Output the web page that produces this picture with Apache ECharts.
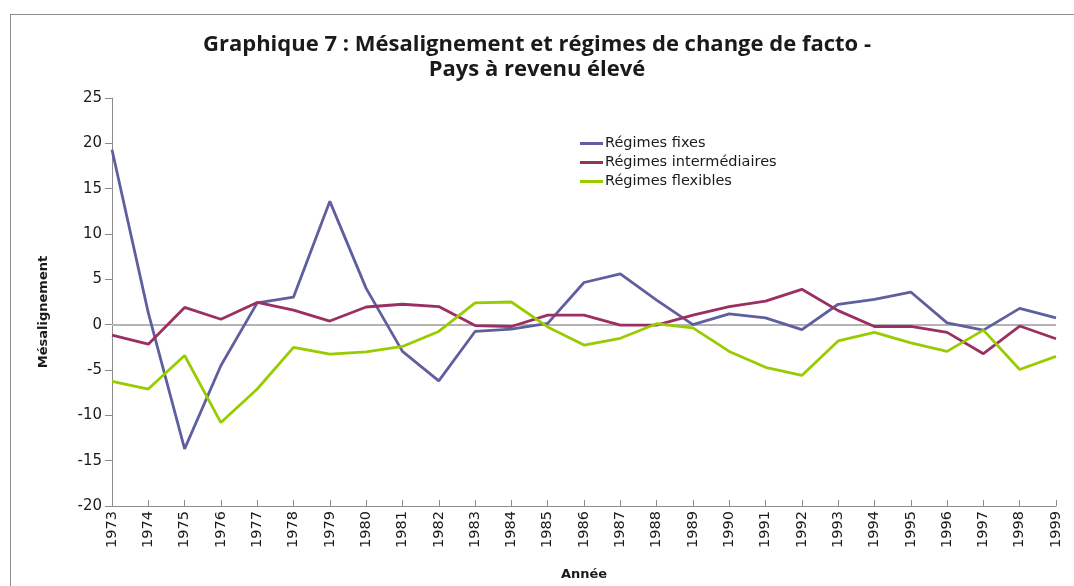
<!DOCTYPE html>
<html>
<head>
<meta charset="utf-8">
<script src="https://cdn.jsdelivr.net/npm/echarts@6/dist/echarts.min.js"></script>
<style>
html,body{margin:0;padding:0;background:#fff;}
#frame{position:absolute;left:10px;top:14px;width:1064px;height:572px;border-top:1px solid #8c8c8c;border-left:1px solid #8c8c8c;box-sizing:border-box;}
#chart{position:absolute;left:0;top:0;width:1074px;height:586px;}
</style>
</head>
<body>
<div id="frame"></div>
<div id="chart"></div>
<script>
const years = ['1973','1974','1975','1976','1977','1978','1979','1980','1981','1982','1983','1984','1985','1986','1987','1988','1989','1990','1991','1992','1993','1994','1995','1996','1997','1998','1999'];
const fixes = [19.3, 1.3, -13.7, -4.5, 2.4, 3.05, 13.6, 4.0, -2.95, -6.2, -0.75, -0.5, 0.15, 4.65, 5.6, 2.7, 0.0, 1.2, 0.75, -0.55, 2.25, 2.8, 3.6, 0.2, -0.6, 1.8, 0.75];
const intermediaires = [-1.15, -2.15, 1.9, 0.6, 2.45, 1.6, 0.4, 1.95, 2.25, 2.0, -0.1, -0.2, 1.05, 1.05, -0.05, -0.05, 1.05, 2.0, 2.6, 3.9, 1.55, -0.2, -0.2, -0.85, -3.2, -0.15, -1.55];
const flexibles = [-6.25, -7.1, -3.4, -10.8, -7.1, -2.5, -3.25, -3.0, -2.4, -0.75, 2.4, 2.5, -0.25, -2.25, -1.5, 0.1, -0.35, -2.95, -4.7, -5.6, -1.8, -0.85, -2.0, -2.95, -0.6, -4.95, -3.5];
const seriesNames = ['Régimes fixes', 'Régimes intermédiaires', 'Régimes flexibles'];
const colors = ['#5f5f9f', '#9b2f62', '#99cc00'];

const chart = echarts.init(document.getElementById('chart'));
const mk = (name, data, color, withZero) => {
  const s = {
    name: name, type: 'line', data: data, symbol: 'none', smooth: false,
    lineStyle: {width: 2.8, color: color}, itemStyle: {color: color}, z: 3
  };
  if (withZero) {
    s.markLine = {silent: true, symbol: 'none', label: {show: false},
      lineStyle: {color: '#b3b3b3', width: 2, type: 'solid'}, z: 1,
      data: [{yAxis: 0}]};
  }
  return s;
};
chart.setOption({
  animation: false,
  title: {
    text: 'Graphique 7 : Mésalignement et régimes de change de facto -\nPays à revenu élevé',
    left: 'center', top: 27,
    textStyle: {fontFamily: 'Open Sans', fontWeight: 'bold', fontSize: 22, lineHeight: 25, color: '#1a1a1a'}
  },
  legend: {
    orient: 'vertical', left: 575, top: 131, itemGap: 4,
    icon: 'rect', itemWidth: 23, itemHeight: 3,
    textStyle: {fontFamily: 'DejaVu Sans', fontSize: 14.5, color: '#1a1a1a', padding: [0,0,0,-3]},
    data: seriesNames
  },
  grid: {left: 112, right: 18, top: 98, bottom: 76, containLabel: false},
  xAxis: {
    type: 'category', data: years, boundaryGap: false,
    name: 'Année', nameLocation: 'middle', nameGap: 62,
    nameTextStyle: {fontFamily: 'DejaVu Sans', fontWeight: 'bold', fontSize: 13, color: '#1a1a1a'},
    axisLine: {onZero: false, lineStyle: {color: '#8c8c8c', width: 1}},
    axisTick: {show: true, inside: true, length: 6, alignWithLabel: true, lineStyle: {color: '#8c8c8c'}},
    axisLabel: {rotate: 90, fontFamily: 'DejaVu Sans', fontSize: 14.5, color: '#1a1a1a', margin: 5, interval: 0},
    splitLine: {show: false}
  },
  yAxis: {
    type: 'value', min: -20, max: 25, interval: 5,
    name: 'Mésalignement', nameLocation: 'middle', nameGap: 62,
    nameTextStyle: {fontFamily: 'DejaVu Sans', fontWeight: 'bold', fontSize: 13, color: '#1a1a1a', padding: [0, 20, 0, 0]},
    axisLine: {show: true, lineStyle: {color: '#8c8c8c', width: 1}},
    axisTick: {show: true, length: 7, lineStyle: {color: '#8c8c8c'}},
    axisLabel: {fontFamily: 'DejaVu Sans', fontSize: 15, color: '#1a1a1a', margin: 10},
    splitLine: {show: false}
  },
  series: [
    mk(seriesNames[0], fixes, colors[0], true),
    mk(seriesNames[1], intermediaires, colors[1], false),
    mk(seriesNames[2], flexibles, colors[2], false)
  ]
});
</script>
</body>
</html>
